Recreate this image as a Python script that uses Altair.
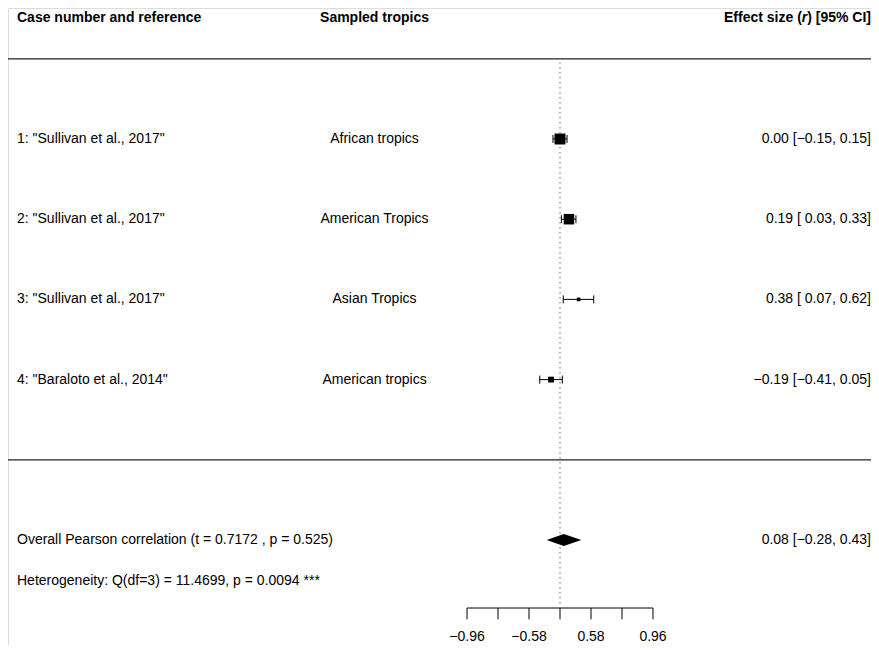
import altair as alt
import numpy as np
import pandas as pd

# ---- data ----
case_labels = ['1: "Sullivan et al., 2017"', '2: "Sullivan et al., 2017"',
               '3: "Sullivan et al., 2017"', '4: "Baraloto et al., 2014"']
tropics = ["African tropics", "American Tropics", "Asian Tropics", "American tropics"]
r_est = [0.00, 0.19, 0.38, -0.19]
r_lo = [-0.15, 0.03, 0.07, -0.41]
r_hi = [0.15, 0.33, 0.62, 0.05]

overall_est = 0.08
overall_lo = -0.28
overall_hi = 0.43
overall_text = "Overall Pearson correlation (t = 0.7172 , p = 0.525)"
het_text = "Heterogeneity: Q(df=3) = 11.4699, p = 0.0094 ***"

tick_z = [-2.0, -4 / 3, -2 / 3, 0.0, 2 / 3, 4 / 3, 2.0]
tick_labels = ["\u22120.96", "", "\u22120.58", "", "0.58", "", "0.96"]

FONT = "Liberation Sans"
W, H = 863, 637
XDOM = [-552 / 46.5, (W - 552) / 46.5]
YDOM = [-0.6334, -0.6334 + H / 80.2]
XR = 863  # right text anchor (view px)


def fmt(v, pad=False):
    s = f"{v:.2f}".replace("-", "\u2212")
    if pad and v >= 0:
        s = " " + s
    return s


pad_lo = any(v < 0 for v in r_lo)
rows = list(range(1, len(r_est) + 1))
z = np.arctanh(np.array(r_est))
zlo = np.arctanh(np.array(r_lo))
zhi = np.arctanh(np.array(r_hi))
inv_se = 1 / ((zhi - zlo) / (2 * 1.959964))
psize = (inv_se - inv_se.min()) / (inv_se.max() - inv_se.min()) + 0.5
side = psize * 7.3

studies = pd.DataFrame({
    "row": rows,
    "case": case_labels,
    "tropics": tropics,
    "z": z, "zlo": zlo, "zhi": zhi,
    "sq": side ** 2,
    "txt": [f"{fmt(e)} [{fmt(l, pad_lo)}, {fmt(h)}]" for e, l, h in zip(r_est, r_lo, r_hi)],
})

xs = alt.Scale(domain=XDOM, nice=False, zero=False)
ys = alt.Scale(domain=YDOM, nice=False, zero=False, reverse=True)
X = lambda f: alt.X(f, type="quantitative", scale=xs, axis=None)
Y = lambda f: alt.Y(f, type="quantitative", scale=ys, axis=None)

base = alt.Chart(studies)

# header texts
hdr = pd.DataFrame({"y": [-0.51]})
h1 = alt.Chart(hdr).mark_text(align="left", baseline="middle", font=FONT, fontSize=14,
                              fontWeight="bold", color="black").encode(
    x=alt.value(9), y=Y("y"), text=alt.value("Case number and reference"))
h2 = alt.Chart(hdr).mark_text(align="center", baseline="middle", font=FONT, fontSize=14,
                              fontWeight="bold", color="black").encode(
    x=alt.value(366.5), y=Y("y"), text=alt.value("Sampled tropics"))
h3a = alt.Chart(hdr).mark_text(align="right", baseline="middle", font=FONT, fontSize=14,
                               fontWeight="bold", color="black").encode(
    x=alt.value(XR), y=Y("y"), text=alt.value(") [95% CI]"))
h3b = alt.Chart(hdr).mark_text(align="right", baseline="middle", font=FONT, fontSize=14,
                               fontWeight="bold", fontStyle="italic", color="black").encode(
    x=alt.value(XR - 63.8), y=Y("y"), text=alt.value("r"))
h3c = alt.Chart(hdr).mark_text(align="right", baseline="middle", font=FONT, fontSize=14,
                               fontWeight="bold", color="black").encode(
    x=alt.value(XR - 63.8 - 5.4), y=Y("y"), text=alt.value("Effect size ("))

# horizontal separators
seps = pd.DataFrame({"y": [0.0, 5.0]})
sep = alt.Chart(seps).mark_rule(color="#222", strokeWidth=1.3).encode(
    x=alt.value(0), x2=alt.value(W), y=Y("y"))

# reference dotted line
ref = alt.Chart(pd.DataFrame({"x": [0.0], "y1": [0.04], "y2": [6.81]})).mark_rule(
    color="#666", strokeDash=[1.5, 3.5], strokeWidth=1).encode(
    x=X("x"), y=Y("y1"), y2="y2")

# study rows
left_txt = base.mark_text(align="left", baseline="middle", font=FONT, fontSize=14,
                          color="black").encode(x=alt.value(9), y=Y("row"), text="case")
mid_txt = base.mark_text(align="center", baseline="middle", font=FONT, fontSize=14,
                         color="black").encode(x=alt.value(366.5), y=Y("row"), text="tropics")
right_txt = base.mark_text(align="right", baseline="middle", font=FONT, fontSize=14,
                           color="black").encode(x=alt.value(XR), y=Y("row"), text="txt")

ci = base.mark_rule(color="black", strokeWidth=1).encode(x=X("zlo"), x2="zhi", y=Y("row"))
cap_lo = base.mark_rule(color="black", strokeWidth=1, yOffset=-4, y2Offset=4).encode(
    x=X("zlo"), y=Y("row"), y2="row")
cap_hi = base.mark_rule(color="black", strokeWidth=1, yOffset=-4, y2Offset=4).encode(
    x=X("zhi"), y=Y("row"), y2="row")
squares = base.mark_square(color="black", opacity=1, filled=True).encode(
    x=X("z"), y=Y("row"), size=alt.Size("sq", type="quantitative", scale=None, legend=None))

# overall row
orow = 6.0
half_h = 6 / 80.2
diam = pd.DataFrame({
    "x": np.arctanh([overall_lo, overall_est, overall_hi]),
    "y1": [orow, orow - half_h, orow],
    "y2": [orow, orow + half_h, orow],
})
diamond = alt.Chart(diam).mark_area(color="black", orient="vertical", opacity=1).encode(
    x=X("x"), y=Y("y1"), y2="y2")

otxt = pd.DataFrame({"y": [orow], "t": [overall_text],
                     "e": [f"{fmt(overall_est)} [{fmt(overall_lo)}, {fmt(overall_hi)}]"]})
o_left = alt.Chart(otxt).mark_text(align="left", baseline="middle", font=FONT, fontSize=14,
                                   color="black").encode(x=alt.value(9), y=Y("y"), text="t")
o_right = alt.Chart(otxt).mark_text(align="right", baseline="middle", font=FONT, fontSize=14,
                                    color="black").encode(x=alt.value(XR), y=Y("y"), text="e")
het = alt.Chart(pd.DataFrame({"y": [6.51], "t": [het_text]})).mark_text(
    align="left", baseline="middle", font=FONT, fontSize=14, color="black").encode(
    x=alt.value(9), y=Y("y"), text="t")

# axis (transformed scale)
ticks = pd.DataFrame({"z": tick_z, "lab": tick_labels, "y1": 6.848, "y2": 6.99, "yl": 7.255})
axis_line = alt.Chart(pd.DataFrame({"a": [min(tick_z)], "b": [max(tick_z)], "y": [6.848]})).mark_rule(
    color="black", strokeWidth=1).encode(x=X("a"), x2="b", y=Y("y"))
axis_ticks = alt.Chart(ticks).mark_rule(color="black", strokeWidth=1).encode(
    x=X("z"), y=Y("y1"), y2="y2")
axis_labels = alt.Chart(ticks).mark_text(align="center", baseline="alphabetic", font=FONT,
                                         fontSize=14, color="black").encode(
    x=X("z"), y=Y("yl"), text="lab")

chart = alt.layer(
    sep, ref, h1, h2, h3a, h3b, h3c,
    left_txt, mid_txt, right_txt, ci, cap_lo, cap_hi, squares,
    diamond, o_left, o_right, het,
    axis_line, axis_ticks, axis_labels,
).properties(
    width=W, height=H, padding=0, autosize=alt.AutoSizeParams(type="none"),
).configure_view(strokeWidth=0, strokeOpacity=0).configure(background="white")

chart.save("out.html", embed_options={"renderer": "svg", "actions": False})
